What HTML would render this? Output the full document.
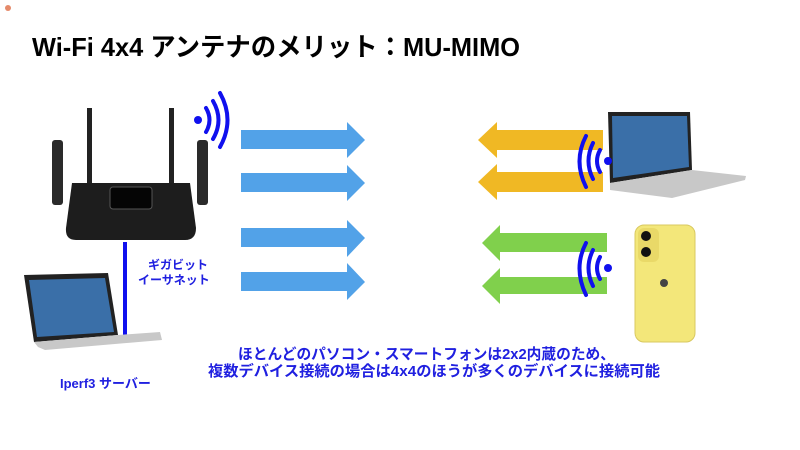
<!DOCTYPE html>
<html><head><meta charset="utf-8"><style>
html,body{margin:0;padding:0;background:#fff;width:800px;height:450px;overflow:hidden}
svg text{font-family:"Liberation Sans","Noto Sans CJK JP",sans-serif;font-weight:bold}
</style></head><body>
<svg width="800" height="450" viewBox="0 0 800 450" xmlns="http://www.w3.org/2000/svg">
<circle cx="8" cy="8" r="3" fill="#e58a6a"/>
<text x="32" y="56" font-size="26" fill="#000" textLength="488" lengthAdjust="spacingAndGlyphs">Wi-Fi 4x4 アンテナのメリット：MU-MIMO</text>

<!-- router -->
<rect x="87" y="108" width="5" height="90" fill="#222"/>
<rect x="169" y="108" width="5" height="90" fill="#222"/>
<rect x="52" y="140" width="11" height="65" rx="3" fill="#2a2a2a"/>
<rect x="197" y="140" width="11" height="65" rx="3" fill="#2a2a2a"/>
<path d="M72 183 L190 183 L196 228 Q196 240 185 240 L76 240 Q65 240 66 228 Z" fill="#1d1d1d"/>
<rect x="110" y="187" width="42" height="22" rx="3" fill="#050505" stroke="#555" stroke-width="1"/>

<!-- wifi left -->
<g stroke="#1010ee" stroke-width="4" fill="none" stroke-linecap="round">
<circle cx="198" cy="120" r="4" fill="#1010ee" stroke="none"/>
<path d="M206 108 Q213 120 206 132"/>
<path d="M213 101 Q224 120 213 139"/>
<path d="M220 93 Q235 120 220 147"/>
</g>

<!-- ethernet -->
<rect x="123" y="242" width="4" height="95" fill="#1010ee"/>
<text x="148" y="269" font-size="12" fill="#2020e0">ギガビット</text>
<text x="138" y="284" font-size="12" fill="#2020e0">イーサネット</text>

<!-- left laptop -->
<path d="M24 275 L108 273 L118 335 L34 342 Z" fill="#222"/>
<path d="M29 280 L105 278 L114 332 L37 337 Z" fill="#3a6fa8"/>
<path d="M34 342 L118 335 L160 332 L162 340 L45 350 L38 347 Z" fill="#c8c8c8"/>
<text x="60" y="388" font-size="13" fill="#2020e0">Iperf3 サーバー</text>

<!-- blue arrows -->
<g fill="#52a2e8">
<path d="M241 130 H347 V122 L365 140 L347 158 V149 H241 Z"/>
<path d="M241 173 H347 V165 L365 183 L347 201 V192 H241 Z"/>
<path d="M241 228 H347 V220 L365 238 L347 257 V247 H241 Z"/>
<path d="M241 272 H347 V263 L365 282 L347 300 V291 H241 Z"/>
</g>
<!-- orange -->
<g fill="#f0b824">
<path d="M603 130 H497 V122 L478 140 L497 158 V150 H603 Z"/>
<path d="M603 172 H497 V164 L478 182 L497 200 V192 H603 Z"/>
</g>
<!-- green -->
<g fill="#80d04c">
<path d="M607 233 H500 V225 L482 243 L500 261 V252 H607 Z"/>
<path d="M607 277 H500 V268 L482 286 L500 304 V294 H607 Z"/>
</g>

<!-- right laptop -->
<path d="M608 112 L690 112 L692 170 L610 183 Z" fill="#222"/>
<path d="M612 116 L687 116 L689 167 L613 178 Z" fill="#3a6fa8"/>
<path d="M610 183 L692 170 L746 176 L745 180 L672 198 L610 190 Z" fill="#c8c8c8"/>

<!-- phone -->
<rect x="635" y="225" width="60" height="117" rx="9" fill="#f3e77a" stroke="#d8c860"/>
<rect x="638" y="228" width="21" height="34" rx="6" fill="#e9d968"/>
<circle cx="646" cy="236" r="5" fill="#111"/>
<circle cx="646" cy="252" r="5" fill="#111"/>
<circle cx="664" cy="283" r="4" fill="#444"/>

<!-- right wifi -->
<g stroke="#1010ee" stroke-width="4" fill="none" stroke-linecap="round">
<circle cx="608" cy="161" r="4" fill="#1010ee" stroke="none"/>
<path d="M600 150 Q594 161 600 172"/>
<path d="M593 143 Q584 161 593 179"/>
<path d="M586 136 Q573 161 586 187"/>
<circle cx="608" cy="268" r="4" fill="#1010ee" stroke="none"/>
<path d="M600 257 Q594 268 600 279"/>
<path d="M593 250 Q584 268 593 286"/>
<path d="M586 243 Q573 268 586 295"/>
</g>

<text x="238" y="359" font-size="15" fill="#2020e0" textLength="377" lengthAdjust="spacingAndGlyphs">ほとんどのパソコン・スマートフォンは2x2内蔵のため、</text>
<text x="208" y="376" font-size="15" fill="#2020e0" textLength="452" lengthAdjust="spacingAndGlyphs">複数デバイス接続の場合は4x4のほうが多くのデバイスに接続可能</text>
</svg>
</body></html>
